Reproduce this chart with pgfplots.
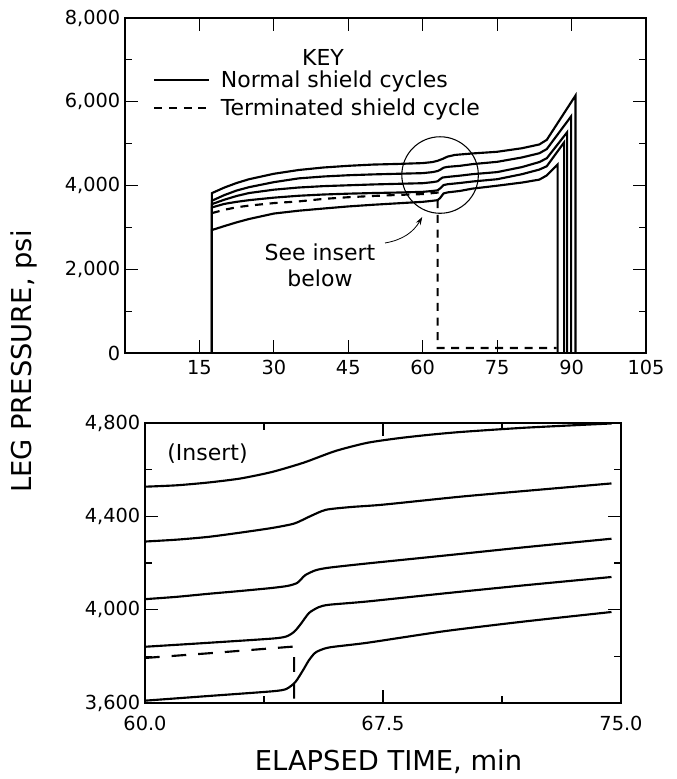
\documentclass[border=0pt]{standalone}
\usepackage{pgfplots}
\pgfplotsset{compat=1.18}
\usepackage{fontspec}
\setmainfont{DejaVu Sans}
\usetikzlibrary{arrows.meta}

\pgfplotsset{
  leg/.style={
    scale only axis,
    anchor=south west,
    axis line style={line width=1.2pt},
    tick style={line width=0.9pt, black},
    tick align=inside,
    major tick length=10pt,
    minor tick length=5pt,
    ticklabel style={font=\fontsize{14.5}{16}\selectfont},
    /pgf/number format/assume math mode=true,
    scaled y ticks=false,
  },
  curve/.style={black, line width=1.6pt},
  term/.style={black, line width=1.6pt, dash pattern=on 6pt off 5pt},
}

\begin{document}
\begin{tikzpicture}
\path[use as bounding box] (0,0) rectangle (507pt,584.25pt);

% full run
\begin{axis}[leg,
  at={(93.75pt,319.5pt)}, width=390.75pt, height=251.25pt,
  xmin=0, xmax=105, ymin=0, ymax=8000,
  xtick={15,30,45,60,75,90,105},
  ytick={0,2000,4000,6000,8000},
  minor ytick={1000,3000,5000,7000},
  xticklabel style={yshift=-2pt},
  legend style={draw=none, fill=none, inner sep=0pt, row sep=3pt,
    font=\fontsize{16.5}{18}\selectfont,
    at={(0.054,0.852)}, anchor=north west,
    /tikz/every odd column/.append style={column sep=6pt}},
  legend cell align=left,
  legend image code/.code={\draw[#1, line width=1.6pt] (0pt,0pt) -- (41pt,0pt);},
]
\addplot[curve] coordinates {(17.5,0) (17.5,3817) (20,3950) (22.5,4060) (25,4150) (30,4280) (35,4370) (40,4430) (45,4470) (50,4500) (55,4515) (60,4535) (62,4560) (63,4590) (64,4635) (65,4690) (66.5,4730) (70,4765) (75,4805) (80,4890) (83.5,4980) (85,5090) (90.8,6150) (90.8,0)};
\addlegendentry{Normal shield cycles}
\addplot[term] coordinates {(17.5,3340) (20,3420) (22.5,3480) (25,3520) (30,3580) (35,3620) (40,3680) (45,3720) (50,3750) (55,3775) (60,3795) (63,3830) (63,120) (87,120)};
\addlegendentry{Terminated shield cycle}
\addplot[curve, forget plot] coordinates {(17.5,0) (17.5,3636) (20,3770) (22.5,3880) (25,3960) (30,4080) (35,4170) (40,4215) (45,4245) (50,4265) (55,4280) (60,4295) (62,4320) (63,4345) (63.6,4380) (64.2,4425) (65,4445) (67.5,4470) (70,4510) (75,4565) (80,4670) (83.5,4770) (85,4870) (89.9,5650) (89.9,0)};
\addplot[curve, forget plot] coordinates {(17.5,0) (17.5,3555) (20,3660) (22.5,3750) (25,3820) (30,3900) (35,3952) (40,3985) (45,4005) (50,4025) (55,4040) (60,4055) (62,4080) (63,4100) (63.5,4150) (64,4190) (65,4205) (67.5,4235) (70,4270) (75,4320) (80,4440) (83.5,4560) (85,4650) (89.1,5270) (89.1,0)};
\addplot[curve, forget plot] coordinates {(17.5,0) (17.5,3476) (20,3560) (22.5,3610) (25,3650) (30,3710) (35,3755) (40,3785) (45,3805) (50,3820) (55,3832) (60,3848) (62,3870) (63,3885) (63.5,3930) (64.2,4010) (65,4030) (67.5,4060) (70,4095) (75,4150) (80,4270) (83.5,4380) (85,4460) (88.5,5030) (88.5,0)};
\addplot[curve, forget plot] coordinates {(17.5,0) (17.5,2936) (20,3030) (22.5,3120) (25,3200) (30,3330) (35,3398) (40,3450) (45,3500) (50,3540) (55,3575) (60,3610) (62,3635) (63,3650) (63.5,3700) (64.2,3810) (65,3835) (67.5,3870) (70,3925) (75,3995) (80,4070) (83.5,4140) (85,4240) (87.2,4500) (87.2,0)};

\node[font=\fontsize{16.5}{18}\selectfont] at (axis cs:39.9,7068) {KEY};
\node[align=center, inner sep=0pt, font=\fontsize{16.5}{19.5}\selectfont] at (axis cs:39.3,2101) {See insert\\below};
\draw[line width=0.8pt] (axis cs:63.5,4250) circle[radius=28.7pt];
\draw[-{Stealth[length=6pt,width=4pt]}, line width=0.6pt] (axis cs:52.4,2627) to[bend right=25] (axis cs:59.9,3248);
\end{axis}

% insert
\begin{axis}[leg,
  at={(108.75pt,57pt)}, width=357pt, height=210pt,
  xmin=60, xmax=75, ymin=3600, ymax=4800,
  xtick={60,67.5,75}, minor xtick={63.75,71.25},
  ytick={3600,4000,4400,4800}, minor ytick={3800,4200,4600},
  xticklabel style={yshift=-6pt, /pgf/number format/.cd, fixed, fixed zerofill, precision=1},
]
\addplot[curve, smooth, tension=0.4] coordinates {(60,4527) (61,4533) (62,4545) (63,4562) (64,4590) (65,4630) (66,4680) (67,4715) (68,4735) (69,4750) (70,4762) (72,4780) (74.7,4798)};
\addplot[curve, smooth, tension=0.4] coordinates {(60,4292) (61,4300) (62,4312) (63,4330) (64,4350) (64.7,4369) (65.2,4400) (65.7,4428) (66.5,4440) (67.5,4450) (70,4485) (72.5,4515) (74.7,4541)};
\addplot[curve, smooth, tension=0.4] coordinates {(60,4045) (61,4055) (62,4068) (63,4080) (64,4093) (64.5,4102) (64.8,4115) (65.05,4148) (65.38,4169) (65.8,4180) (67,4198) (69.45,4232) (72,4268) (74.7,4304)};
\addplot[curve, smooth, tension=0.4] coordinates {(60,3841) (62,3858) (64,3876) (64.45,3885) (64.7,3905) (64.9,3937) (65.17,3986) (65.48,4011) (65.8,4021) (67,4035) (69.45,4070) (72,4105) (74.7,4140)};
\addplot[curve, smooth, tension=0.4] coordinates {(60,3610) (62,3630) (64,3650) (64.45,3660) (64.74,3690) (65.0,3745) (65.16,3782) (65.38,3817) (65.8,3838) (67,3858) (69.45,3908) (72,3950) (74.7,3990)};
\addplot[black, line width=1.6pt, dash pattern=on 11pt off 9pt] coordinates {(60,3793) (62,3813) (64.6,3841) (64.7,3841) (64.7,3600)};
\node[font=\fontsize{16.5}{18}\selectfont] at (axis cs:61.97,4667) {(Insert)};
\end{axis}

\node[rotate=90, font=\fontsize{20.5}{24}\selectfont] at (18pt,313.1pt) {LEG PRESSURE, psi};
\node[font=\fontsize{20.5}{24}\selectfont] at (291.4pt,12.75pt) {ELAPSED TIME, min};
\end{tikzpicture}
\end{document}
